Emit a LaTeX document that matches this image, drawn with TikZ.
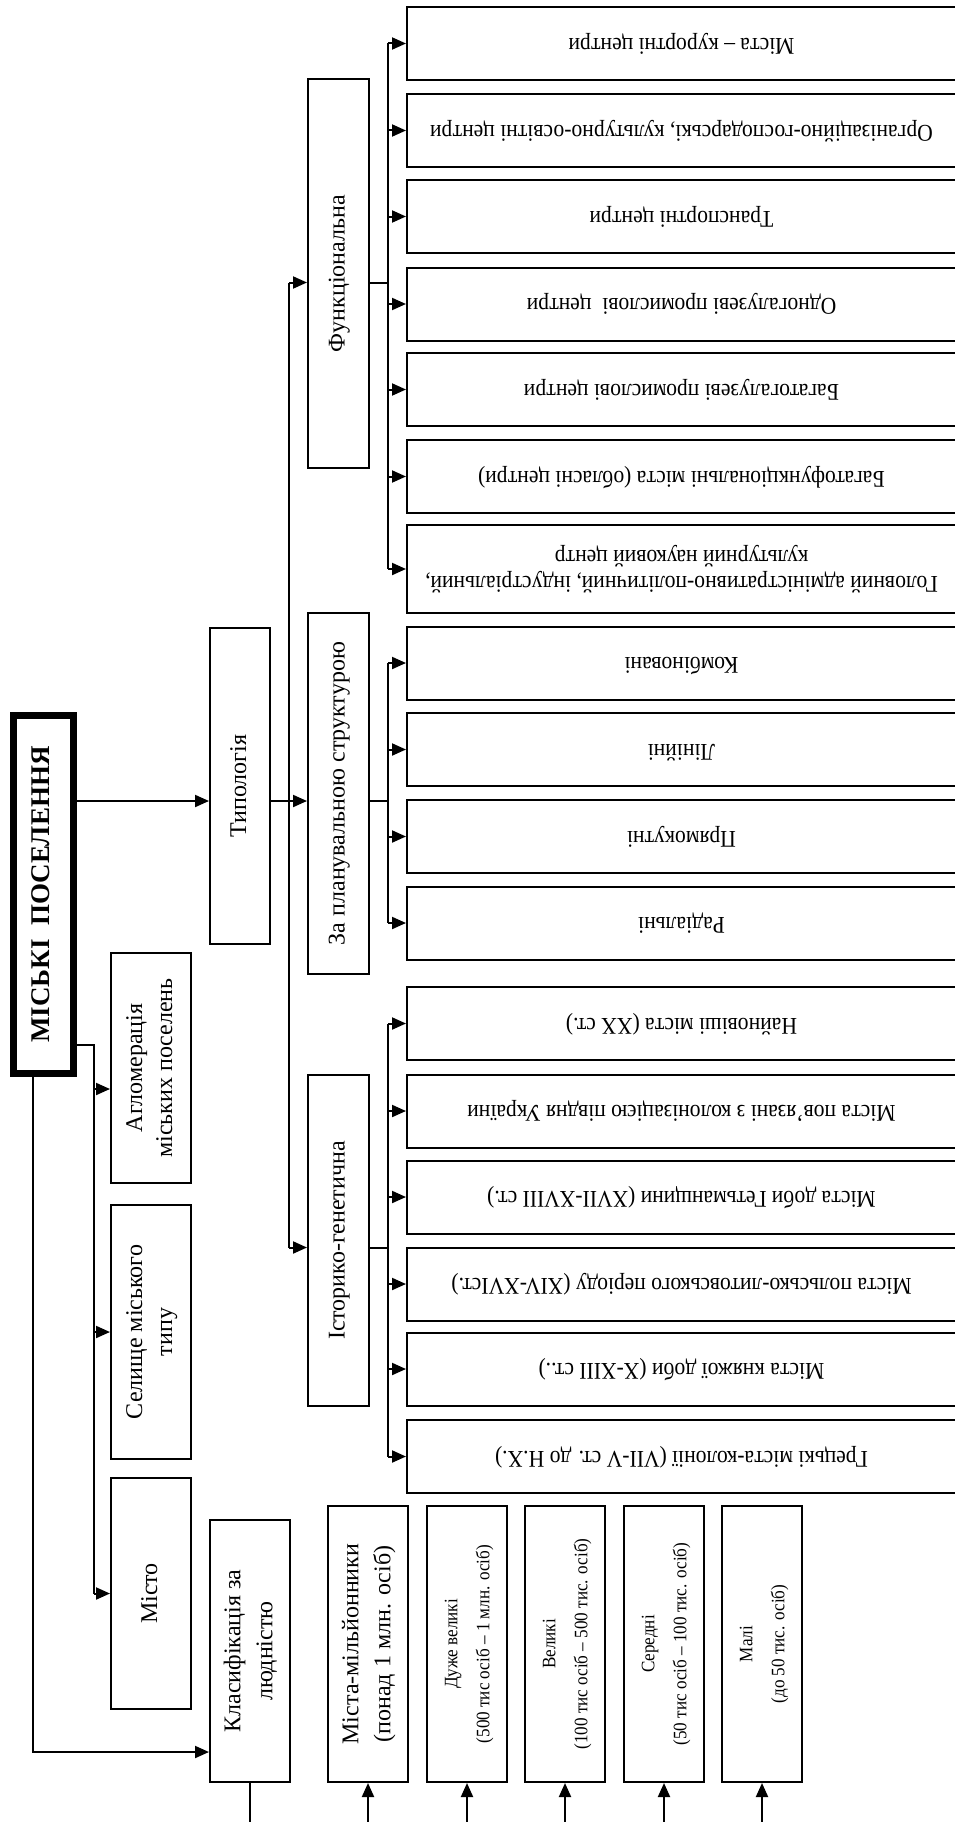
\documentclass[tikz,border=0pt]{standalone}
\usepackage{graphicx}
\usepackage{fontspec}
\setmainfont{Liberation Serif}
\newfontfamily\tallfont[FakeStretch=0.9]{Liberation Serif}
\usetikzlibrary{arrows.meta, calc}

\newcommand\uptext[1]{\rotatebox{90}{\begin{tabular}{@{}c@{}}#1\end{tabular}}}
\newcommand\fliptext[1]{\rotatebox{180}{\begin{tabular}{@{}c@{}}#1\end{tabular}}}

\begin{document}
\begin{tikzpicture}[
	x=1pt, y=-1pt,
	box/.style = {draw, line width=2pt, inner sep=0pt},
	lft/.style = {box, font=\fontsize{24}{30}\selectfont},
	rgt/.style = {box, minimum width=549pt, minimum height=73pt,
	              font=\tallfont\fontsize{24}{26}\selectfont},
	sml/.style = {box, minimum width=80pt, minimum height=276pt,
	              font=\tallfont\fontsize{19}{32}\selectfont},
	arr/.style = {line width=2pt, -{Triangle[length=14pt, width=12pt]}},
	ln/.style  = {line width=2pt}
     ]
	\useasboundingbox (0,0) rectangle (955,1822);
	\clip (0,0) rectangle (955,1822);
%
	\node[box, line width=7pt, minimum width=60pt, minimum height=358pt,
	      font=\fontsize{27}{32}\selectfont\bfseries] (main) at (43.5,894.5)
	      {\uptext{МІСЬКІ\ \ ПОСЕЛЕННЯ}};
%
	\node[lft, minimum width=60pt, minimum height=316pt] (typ) at (240,786) {\uptext{Типологія}};
	\node[lft, minimum width=61pt, minimum height=389pt] (fun) at (338.5,273.5) {\uptext{Функціональна}};
	\node[lft, minimum width=61pt, minimum height=361pt] (plan) at (338.5,793.5) {\uptext{За планувальною структурою}};
	\node[lft, minimum width=61pt, minimum height=331pt] (hist) at (338.5,1240.5) {\uptext{Історико-генетична}};
%
	\node[lft, minimum width=80pt, minimum height=230pt] (aggl) at (151,1068) {\uptext{Агломерація\\міських поселень}};
	\node[lft, minimum width=80pt, minimum height=254pt] (town) at (151,1332) {\uptext{Селище міського\\типу}};
	\node[lft, minimum width=80pt, minimum height=231pt] (city) at (151,1593.5) {\uptext{Місто}};
	\node[lft, minimum width=80pt, minimum height=262pt, font=\fontsize{24}{32}\selectfont]
	      (class) at (250,1651) {\uptext{Класифікація за\\людністю}};
%
	\foreach \n/\y/\t in {
		f1/43.5/{Міста – курортні центри},
		f2/130.5/{Організаційно-господарські, культурно-освітні центри},
		f3/216.5/{Транспортні центри},
		f4/304/{Одногалузеві промислові~ центри},
		f5/389.5/{Багатогалузеві промислові центри},
		f6/476.5/{Багатофункціональні міста (обласні центри)},
		p1/663/{Комбіновані},
		p2/749.5/{Лінійні},
		p3/836.5/{Прямокутні},
		p4/923/{Радіальні},
		h1/1023.5/{Найновіші міста (ХХ ст.)},
		h2/1111/{Міста пов’язані з колонізацією півдня України},
		h3/1197/{Міста доби Гетьманщини (XVII-XVIII ст.)},
		h4/1284/{Міста польсько-литовського періоду (XIV-XVIст.)},
		h5/1369/{Міста княжої доби (X-XIII ст..)},
		h6/1456.5/{Грецькі міста-колонії (VII-V ст. до Н.Х.)}}
		\node[rgt] (\n) at (681.5,\y) {\fliptext{\t}};
	\node[rgt, minimum height=88pt] (f7) at (681.5,569)
	      {\fliptext{Головний адміністративно-політичний, індустріальний,\\культурний науковий центр}};
%
	\node[lft, minimum width=80pt, minimum height=276pt, font=\fontsize{24}{32}\selectfont]
	      (s1) at (368,1644) {\uptext{Міста-мільйонники\\(понад 1 млн. осіб)}};
	\foreach \n/\x/\t in {
		s2/467/{Дуже великі\\(500 тис осіб – 1 млн. осіб)},
		s3/565/{Великі\\(100 тис осіб – 500 тис. осіб)},
		s4/664/{Середні\\(50 тис осіб – 100 тис. осіб)},
		s5/762/{Малі\\(до 50 тис. осіб)}}
		\node[sml] (\n) at (\x,1644) {\uptext{\t}};
%
	\coordinate (lv) at ([yshift=-15pt]typ.west);
	\coordinate (fa) at ([yshift=-9pt]fun.west);
	\coordinate (ha) at ([yshift=-7pt]hist.west);
	\coordinate (ag) at ([yshift=-21pt]aggl.west);
	\coordinate (mo) at ([yshift=-150pt]main.east);
	\coordinate (ca) at ([yshift=-101pt]class.west);
	\coordinate (tk) at ($(typ.east)!.5!(plan.west)$);
	\coordinate (bx) at ($(plan.east)!.5!(p1.west)$);
	\coordinate (sb) at ($(main.east)!.5!(aggl.west)$);
	\coordinate (bot) at (0,1822);
%
	\draw[arr] (main.east |- lv) -- (lv);
	\draw[arr] (typ.east |- lv) -- (plan.west |- lv);
	\draw[ln] (tk |- fa) -- (tk |- ha);
	\draw[arr] (tk |- fa) -- (fa);
	\draw[arr] (tk |- ha) -- (ha);
%
	\draw[ln] (fun.east |- fa) -- (bx |- fa);
	\draw[ln] (bx |- f1.west) -- (bx |- f7.west);
	\foreach \i in {1,...,7}
		\draw[arr] (bx |- f\i.west) -- (f\i.west);
%
	\draw[ln] (plan.east |- lv) -- (bx |- lv);
	\draw[ln] (bx |- p1.west) -- (bx |- p4.west);
	\foreach \i in {1,...,4}
		\draw[arr] (bx |- p\i.west) -- (p\i.west);
%
	\draw[ln] (hist.east |- ha) -- (bx |- ha);
	\draw[ln] (bx |- h1.west) -- (bx |- h6.west);
	\foreach \i in {1,...,6}
		\draw[arr] (bx |- h\i.west) -- (h\i.west);
%
	\draw[ln] (mo) -| (sb |- city.west);
	\draw[arr] (sb |- ag) -- (ag);
	\draw[arr] (sb |- town.west) -- (town.west);
	\draw[arr] (sb |- city.west) -- (city.west);
%
	\draw[arr] ([xshift=-10.5pt]main.south) |- (ca);
	\draw[ln] (class.south) -- (class.south |- bot);
	\foreach \n in {s1,s2,s3,s4,s5}
		\draw[arr] (\n.south |- bot) -- (\n.south);
\end{tikzpicture}
\end{document}
